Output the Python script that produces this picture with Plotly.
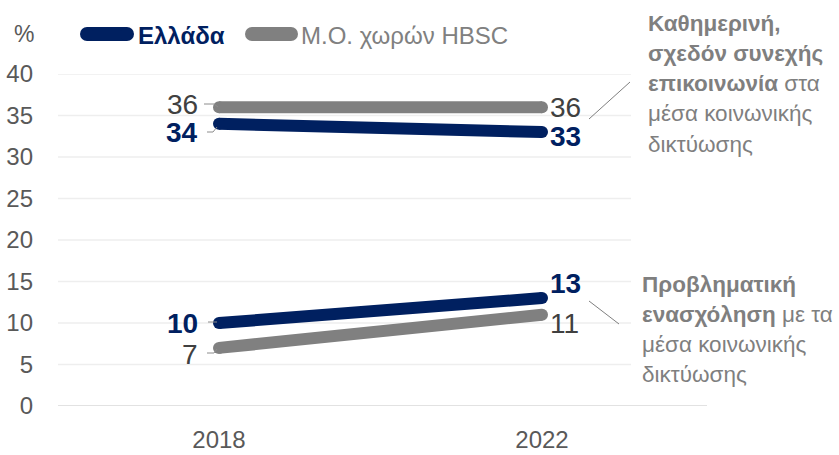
import plotly.graph_objects as go

# ---- data ----
years = ["2018", "2022"]
greece_daily = [34, 33]
hbsc_daily = [36, 36]
greece_problem = [10, 13]
hbsc_problem = [7, 11]
y_ticks = [0, 5, 10, 15, 20, 25, 30, 35, 40]
legend_names = ["Ελλάδα", "Μ.Ο. χωρών HBSC"]
note_daily = ["<b>Καθημερινή,</b>", "<b>σχεδόν συνεχής</b>", "<b>επικοινωνία</b> στα",
              "μέσα κοινωνικής", "δικτύωσης"]
note_problem = ["<b>Προβληματική</b>", "<b>ενασχόληση</b> με τα", "μέσα κοινωνικής", "δικτύωσης"]

NAVY = "#002060"
GRAY = "#808080"
TXT = "#595959"
NOTE = "#7f7f7f"
FONT = "Liberation Sans, Arial, sans-serif"

W, H = 839, 455
L, R, T, B = 58, 208, 74, 49
PX_LEFT, PX_RIGHT, PX_TOP, PX_BOT = L, W - R, T, H - B
# category centres at 219 px and 542 px
px_per_cat = 542 - 219
r0 = -(219 - PX_LEFT) / px_per_cat
r1 = r0 + (PX_RIGHT - PX_LEFT) / px_per_cat
PW, PH = PX_RIGHT - PX_LEFT, PX_BOT - PX_TOP


def px2paper(px, py):
    return (px - PX_LEFT) / PW, (PX_BOT - py) / PH


fig = go.Figure()

series = [
    (hbsc_daily, GRAY), (greece_daily, NAVY),
    (hbsc_problem, GRAY), (greece_problem, NAVY),
]
for vals, col in series:
    fig.add_trace(go.Scatter(
        x=years, y=vals, mode="lines+markers",
        line=dict(color=col, width=12),
        marker=dict(color=col, size=12, line=dict(width=0)),
        showlegend=False, hoverinfo="skip", cliponaxis=False,
    ))

# data labels (offsets in px)
label_specs = [
    # values, color, bold, (left xshift, yshift), (right xshift, yshift)
    (hbsc_daily, "#404040", False, (-19, 3), (6, 0)),
    (greece_daily, NAVY, True, (-19, -9), (6, -4)),
    (hbsc_problem, "#404040", False, (-19, -7), (6, -9)),
    (greece_problem, NAVY, True, (-19, 0), (6, 15)),
]
for vals, col, bold, ls, rs in label_specs:
    for i, (xs, ys) in enumerate([ls, rs]):
        txt = f"<b>{vals[i]}</b>" if bold else str(vals[i])
        fig.add_annotation(
            x=i, y=vals[i], xref="x", yref="y", text=txt, showarrow=False,
            xanchor="right" if i == 0 else "left", yanchor="middle",
            xshift=xs, yshift=ys,
            font=dict(family=FONT, size=28, color=col),
        )

# decorations in pixel space (overlay axes)
def deco_line(xs, ys, col, w):
    fig.add_trace(go.Scatter(
        x=xs, y=ys, xaxis="x2", yaxis="y2", mode="lines",
        line=dict(color=col, width=w), showlegend=False,
        hoverinfo="skip", cliponaxis=False,
    ))

# leader lines
LEAD = "#8c8c8c"
deco_line([204, 214, 218], [104, 104, 107], LEAD, 1)
deco_line([207, 213, 217], [132, 132, 127], LEAD, 1)
deco_line([208, 217], [322, 322], LEAD, 1)
deco_line([207, 214, 217], [353, 353, 349], LEAD, 1)
deco_line([589, 630], [119, 82], "#7f7f7f", 1)
deco_line([589, 619], [301, 324], "#7f7f7f", 1)

# legend symbols (rounded bars made of rect + end circles, paper coords)
SYM_R = 7
for (cx0, cx1), col in [((87, 127), NAVY), ((252, 291), GRAY)]:
    cy = 34
    xa, yt = px2paper(cx0, cy - SYM_R)
    xb, yb = px2paper(cx1, cy + SYM_R)
    fig.add_shape(type="rect", xref="paper", yref="paper", x0=xa, x1=xb, y0=yb, y1=yt,
                  fillcolor=col, line=dict(width=0))
    for cx in (cx0, cx1):
        a, t = px2paper(cx - SYM_R, cy - SYM_R)
        b, bo = px2paper(cx + SYM_R, cy + SYM_R)
        fig.add_shape(type="circle", xref="paper", yref="paper", x0=a, x1=b, y0=bo, y1=t,
                      fillcolor=col, line=dict(width=0))


def paper_text(px, py, text, size, color, anchor="left"):
    xp, yp = px2paper(px, py)
    fig.add_annotation(x=xp, y=yp, xref="paper", yref="paper", text=text,
                       showarrow=False, xanchor=anchor, yanchor="middle",
                       font=dict(family=FONT, size=size, color=color))


# legend texts
paper_text(24, 34, "%", 23, TXT, "center")
paper_text(136, 35, f"<b>{legend_names[0]}</b>", 24, NAVY)
paper_text(299, 35, legend_names[1], 24, GRAY)

# side notes
for lines, x0, y0 in [(note_daily, 646, 23), (note_problem, 640, 284)]:
    for k, line in enumerate(lines):
        paper_text(x0, y0 + 30.3 * k, line, 22.5, NOTE)

# gridlines and base line
for v in y_ticks[1:]:
    fig.add_shape(type="line", xref="paper", yref="y", x0=0, x1=1, y0=v, y1=v,
                  line=dict(color="#eeeeee", width=1.5), layer="below")
fig.add_shape(type="line", xref="paper", yref="y", x0=0,
              x1=(707 - PX_LEFT) / PW, y0=0, y1=0,
              line=dict(color="#d9d9d9", width=1.5), layer="below")

fig.update_layout(
    width=W, height=H,
    margin=dict(l=L, r=R, t=T, b=B, pad=0, autoexpand=False),
    paper_bgcolor="white", plot_bgcolor="white",
    showlegend=False,
    font=dict(family=FONT, color=TXT),
    xaxis=dict(type="category", range=[r0, r1], showgrid=False, zeroline=False,
               showline=False, ticks="", tickfont=dict(size=24, color=TXT),
               ticklabelstandoff=17, automargin=False, fixedrange=True),
    yaxis=dict(range=[0, 40], tickvals=y_ticks, showgrid=False, zeroline=False,
               showline=False, ticks="", tickfont=dict(size=24, color=TXT),
               ticklabelstandoff=24, automargin=False, fixedrange=True),
    xaxis2=dict(overlaying="x", range=[PX_LEFT, PX_RIGHT], visible=False, fixedrange=True),
    yaxis2=dict(overlaying="y", range=[PX_BOT, PX_TOP], visible=False, fixedrange=True),
)

fig.write_html("out.html")
